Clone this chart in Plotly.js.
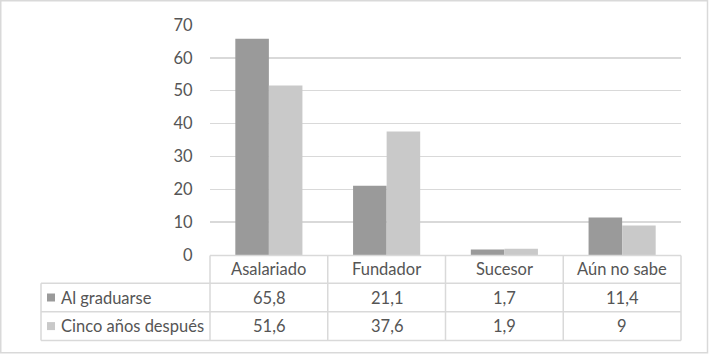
<!DOCTYPE html>
<html>
<head>
<meta charset="utf-8">
<script src="https://cdn.plot.ly/plotly-3.0.1.min.js"></script>
<style>html,body{margin:0;padding:0;background:#fff;}</style>
</head>
<body>
<div id="chart" style="width:709px;height:355px;"></div>
<script>
const categories = ["Asalariado", "Fundador", "Sucesor", "Aún no sabe"];
const seriesNames = ["Al graduarse", "Cinco años después"];
const alGraduarse = [65.8, 21.1, 1.7, 11.4];
const cincoAnos = [51.6, 37.6, 1.9, 9];
const tableText1 = ["65,8", "21,1", "1,7", "11,4"];
const tableText2 = ["51,6", "37,6", "1,9", "9"];
const yTicks = [0, 10, 20, 30, 40, 50, 60, 70];

const colors = ["#9a9a9a", "#c9c9c9"];
const txtColor = "#555555";
const lineColor = "#d9d9d9";
const fontFam = "Lato, 'Open Sans', sans-serif";
const fs = 16.5;

const W = 709, H = 355;
const mL = 210, mR = 28, mT = 25, mB = 100;
const pw = W - mL - mR, ph = H - mT - mB;
const px = v => (v - mL) / pw;          // pixel x -> paper x
const py = v => (H - mB - v) / ph;      // pixel y -> paper y

const traces = [
  {type: "bar", x: categories, y: alGraduarse, name: seriesNames[0], marker: {color: colors[0]}, hoverinfo: "none"},
  {type: "bar", x: categories, y: cincoAnos, name: seriesNames[1], marker: {color: colors[1]}, hoverinfo: "none"}
];

const rowY = [255.5, 283.3, 311.7, 340.5];
const legendLeft = 41;
const shapes = [];
const annotations = [];
const n = categories.length;

// horizontal table lines
shapes.push({type: "line", xref: "paper", yref: "paper", x0: 0, x1: 1, y0: py(rowY[0]), y1: py(rowY[0]), line: {color: lineColor, width: 1.5}});
for (let r = 1; r < rowY.length; r++) {
  shapes.push({type: "line", xref: "paper", yref: "paper", x0: px(legendLeft), x1: 1, y0: py(rowY[r]), y1: py(rowY[r]), line: {color: lineColor, width: 1.5}});
}
// vertical table lines
for (let i = 0; i <= n; i++) {
  shapes.push({type: "line", xref: "paper", yref: "paper", x0: i / n, x1: i / n, y0: py(rowY[0]), y1: py(rowY[3]), line: {color: lineColor, width: 1.5}});
}
shapes.push({type: "line", xref: "paper", yref: "paper", x0: px(legendLeft), x1: px(legendLeft), y0: py(rowY[1]), y1: py(rowY[3]), line: {color: lineColor, width: 1.5}});
// outer chart border
shapes.push({type: "rect", xref: "paper", yref: "paper", x0: px(0.75), x1: px(707.5), y0: py(352.7), y1: py(0.75), line: {color: lineColor, width: 1.5}});

const rowsText = [categories, tableText1, tableText2];
for (let r = 0; r < 3; r++) {
  const yc = py((rowY[r] + rowY[r + 1]) / 2);
  for (let i = 0; i < n; i++) {
    annotations.push({xref: "x", yref: "paper", x: categories[i], y: yc, text: rowsText[r][i], showarrow: false,
      xanchor: "center", yanchor: "middle", font: {family: fontFam, size: fs, color: txtColor}});
  }
}
// legend keys inside table
for (let s = 0; s < 2; s++) {
  const yc = (rowY[s + 1] + rowY[s + 2]) / 2;
  shapes.push({type: "rect", xref: "paper", yref: "paper", x0: px(47), x1: px(55), y0: py(yc + 4), y1: py(yc - 4), fillcolor: colors[s], line: {width: 0}});
  annotations.push({xref: "paper", yref: "paper", x: px(59), y: py(yc), text: seriesNames[s], showarrow: false,
    xanchor: "left", yanchor: "middle", font: {family: fontFam, size: fs, color: txtColor}});
}

const layout = {
  width: W, height: H,
  margin: {l: mL, r: mR, t: mT, b: mB, pad: 0},
  paper_bgcolor: "#ffffff", plot_bgcolor: "#ffffff",
  showlegend: false,
  barmode: "group", bargap: 0.43, bargroupgap: 0,
  font: {family: fontFam, size: fs, color: txtColor},
  xaxis: {type: "category", showticklabels: false, showgrid: false, zeroline: false, showline: false, ticks: "", range: [-0.5, n - 0.5], fixedrange: true},
  yaxis: {range: [0, 70], tickvals: yTicks, ticktext: yTicks.map(String), showgrid: true, gridcolor: lineColor, gridwidth: 1.5,
    zeroline: false, showline: false, ticks: "outside", ticklen: 13, tickcolor: "rgba(0,0,0,0)",
    tickfont: {family: fontFam, size: fs, color: txtColor}, fixedrange: true},
  shapes: shapes,
  annotations: annotations
};

Plotly.newPlot("chart", traces, layout, {displayModeBar: false, staticPlot: true});
</script>
</body>
</html>
